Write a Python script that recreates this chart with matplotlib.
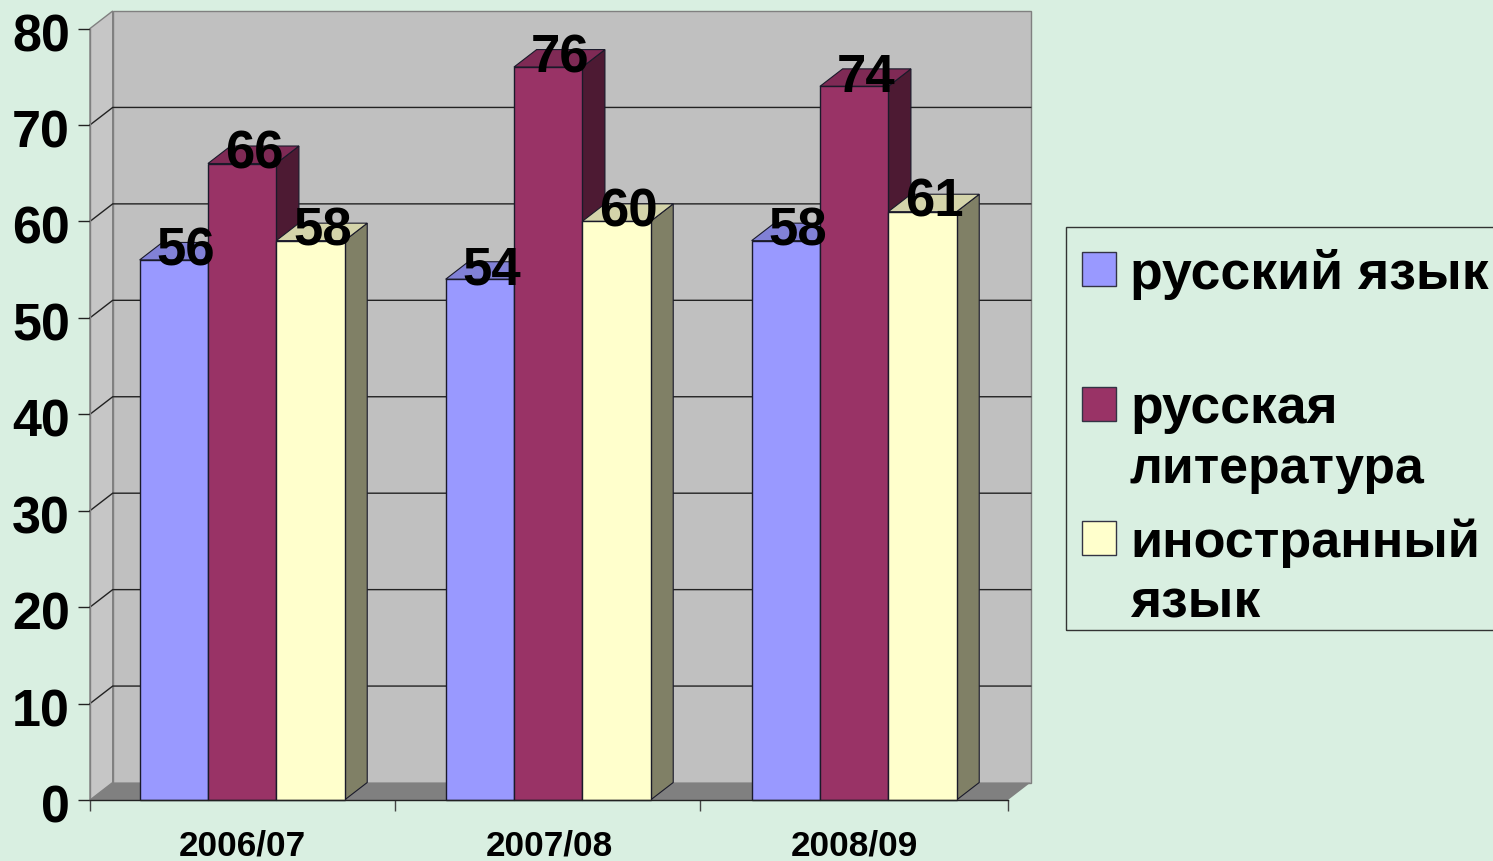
import matplotlib
matplotlib.use("Agg")
import matplotlib.pyplot as plt
from matplotlib.patches import Rectangle
from matplotlib.transforms import ScaledTranslation

categories = ["2006/07", "2007/08", "2008/09"]
series_names = ["русский язык", "русская литература", "иностранный язык"]
russian_language = [56, 54, 58]
russian_literature = [66, 76, 74]
foreign_language = [58, 60, 61]
y_ticks = [0, 10, 20, 30, 40, 50, 60, 70, 80]

W, H = 1493, 862
BG = "#D9EFE1"
FONT = "Liberation Sans"
fig = plt.figure(figsize=(W / 100, H / 100), dpi=100, facecolor=BG)
L, R, B, T = 90, 1008, 801, 29.5
ax = fig.add_axes([L / W, (H - B) / H, (R - L) / W, (B - T) / H])
ax.set_xlim(0, 3)
ax.set_ylim(0, 80)
ax.patch.set_visible(False)
for s in ("top", "right"):
    ax.spines[s].set_visible(False)
for s in ("left", "bottom"):
    ax.spines[s].set_color("#222222")
    ax.spines[s].set_linewidth(1.0)
    ax.spines[s].set_zorder(20)
ax.spines["left"].set_color("#808080")

DX = 22.7 / ((R - L) / 3)
DY = 17.5 / ((B - T) / 80)
TOPY = 80
group_centers = [0.497, 1.497, 2.497]
group_ticks = [0, 0.997, 1.993, 3]


def poly(xs, ys, fc, ec="none", lw=0.0, z=1):
    ax.fill(xs, ys, facecolor=fc, edgecolor=ec, linewidth=lw, zorder=z, clip_on=False)


# walls and floor
poly([0, DX, DX, 0], [0, DY, TOPY + DY, TOPY], "#C6C6C6", "#808080", 1.0, 1)
poly([DX, 3 + DX, 3 + DX, DX], [DY, DY, TOPY + DY, TOPY + DY], "#C0C0C0", "#808080", 1.0, 1)
poly([0, 3, 3 + DX, DX], [0, 0, DY, DY], "#808080", "none", 0, 2)
for v in y_ticks[1:-1]:
    ax.plot([0, DX, 3 + DX], [v, v + DY, v + DY], color="#222222", lw=1.0, zorder=2, clip_on=False)

# bars
BW = 68.3 / ((R - L) / 3)
series = [russian_language, russian_literature, foreign_language]
faces = [("#9999FF", "#8181D6", "#4F4F80"),
         ("#993366", "#7F2A55", "#4D1A33"),
         ("#FFFFCC", "#D4D4AA", "#808066")]
edge = "#1A1A2A"
z = 3
for k, (vals, (front, top, side)) in enumerate(zip(series, faces)):
    for i, v in enumerate(vals):
        x0 = group_centers[i] + (k - 1.5) * BW
        x1 = x0 + BW
        ax.bar(x0, v, width=BW, align="edge", color=front, edgecolor=edge, linewidth=1.0, zorder=z + 2, clip_on=False)
        poly([x0, x1, x1 + DX, x0 + DX], [v, v, v + DY, v + DY], top, edge, 0.8, z + 1)
        poly([x1, x1 + DX, x1 + DX, x1], [0, DY, v + DY, v], side, edge, 0.8, z)
    z += 3

# value labels
up = ScaledTranslation(1 / 100, 6.5 / 100, fig.dpi_scale_trans)
for k, vals in enumerate(series):
    for i, v in enumerate(vals):
        xc = group_centers[i] + (k - 1) * BW + DX / 2
        ax.text(xc, v + DY / 2, str(v), ha="center", va="center_baseline", fontsize=38,
                family=FONT, weight="bold", color="black", zorder=30, clip_on=False,
                transform=ax.transData + up)

# axes ticks
ax.set_yticks(y_ticks)
ax.tick_params(axis="y", length=8.5, width=1.0, color="#222222", pad=6)
down = ScaledTranslation(0, -2.5 / 100, fig.dpi_scale_trans)
for lab in ax.get_yticklabels():
    lab.set_fontsize(37.5)
    lab.set_family(FONT)
    lab.set_weight("bold")
    lab.set_transform(lab.get_transform() + down)
ax.set_xticks(group_ticks)
ax.set_xticklabels([])
ax.tick_params(axis="x", which="major", length=8, width=1.0, color="#444444")
ax.set_xticks([0.497, 1.5, 2.497], minor=True)
ax.set_xticklabels(categories, minor=True, fontsize=25.3, family=FONT, weight="bold")
ax.tick_params(axis="x", which="minor", length=0, pad=20.5)

# legend
def px(x, y):
    return x / W, 1 - y / H


lf = dict(transform=fig.transFigure, family=FONT, weight="bold", color="black",
          va="center_baseline", ha="left")
fig.add_artist(Rectangle(px(1066, 631), 500 / W, (631 - 228) / H, transform=fig.transFigure,
                         facecolor="none", edgecolor="#333333", linewidth=1.0))
legend_rows = [
    (0, series_names[0], 270, 38.6),
    (1, "русская", 405, 38.5),
    (None, "литература", 466, 37.3),
    (2, "иностранный", 539, 37.6),
    (None, "язык", 600, 38.5),
]
for idx, txt, yc, size in legend_rows:
    if idx is not None:
        fig.add_artist(Rectangle(px(1082, yc + 17), 34 / W, 34 / H, transform=fig.transFigure,
                                 facecolor=faces[idx][0], edgecolor="#333344", linewidth=1.0))
    fig.text(*px(1130, yc - 1.5), txt, fontsize=size, **lf)

fig.savefig("out.png", dpi=100, facecolor=BG)
